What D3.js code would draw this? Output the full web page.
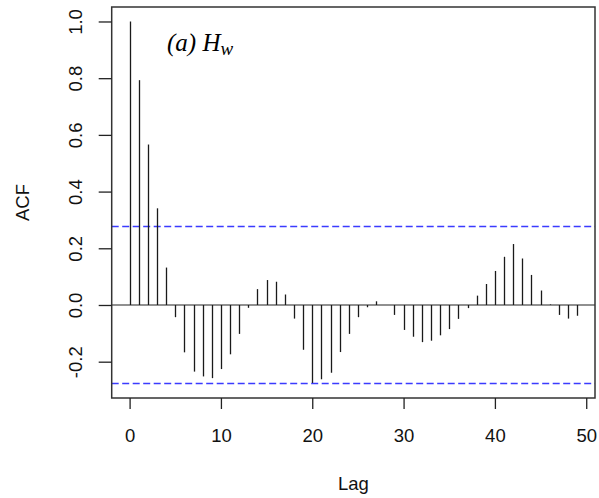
<!DOCTYPE html>
<html>
<head>
<meta charset="utf-8">
<script src="https://cdn.jsdelivr.net/npm/d3@7"></script>
<style>
  html, body { margin: 0; padding: 0; background: #fff; }
  svg { display: block; }
</style>
</head>
<body>
<svg id="chart" width="599" height="498"></svg>
<script>
// Sample autocorrelation of H_w, lags 0..49
const lags = d3.range(0, 50);
const acfValues = [
  1.000, 0.793, 0.566, 0.341, 0.132, -0.043, -0.167, -0.235, -0.252, -0.258,
  -0.226, -0.174, -0.102, -0.010, 0.056, 0.088, 0.082, 0.037, -0.048, -0.158,
  -0.275, -0.262, -0.239, -0.166, -0.102, -0.043, -0.008, 0.013, 0.000, -0.035,
  -0.088, -0.112, -0.131, -0.126, -0.107, -0.085, -0.049, -0.011, 0.033, 0.074,
  0.120, 0.170, 0.215, 0.164, 0.106, 0.051, 0.002, -0.035, -0.048, -0.038
];
const confBound = 0.277;           // approximate 95% significance bound
const xTicks = [0, 10, 20, 30, 40, 50];
const yTicks = [-0.2, 0.0, 0.2, 0.4, 0.6, 0.8, 1.0];
const titleMain = "(a) H";
const titleSub = "w";

const svg = d3.select("#chart");
const plotL = 111.7, plotR = 595, plotT = 7, plotB = 398;

// R-style 4% padding of the data range
const xPad = (49 - 0) * 0.04;
const x = d3.scaleLinear().domain([0 - xPad, 49 + xPad]).range([plotL, plotR]);
const yLo = -confBound, yHi = 1.0, yPad = (yHi - yLo) * 0.04;
const y = d3.scaleLinear().domain([yLo - yPad, yHi + yPad]).range([plotB, plotT]);

const font = "'Liberation Sans', Arial, Helvetica, sans-serif";
// plain hyphen for negative tick labels
const fmtY = d => d3.format(".1f")(d).replace("\u2212", "-");

// zero reference line
svg.append("line")
  .attr("x1", plotL).attr("x2", plotR)
  .attr("y1", y(0)).attr("y2", y(0))
  .attr("stroke", "#222").attr("stroke-width", 1.1);

// confidence bounds
svg.selectAll("line.ci").data([confBound, -confBound]).enter().append("line")
  .attr("class", "ci")
  .attr("x1", plotL).attr("x2", plotR)
  .attr("y1", d => y(d)).attr("y2", d => y(d))
  .attr("stroke", "#3b3bff").attr("stroke-width", 1.4)
  .attr("stroke-dasharray", "7,3.5");

// ACF spikes
svg.selectAll("line.spike").data(lags).enter().append("line")
  .attr("class", "spike")
  .attr("x1", d => Math.round(x(d)) + 0.5).attr("x2", d => Math.round(x(d)) + 0.5)
  .attr("y1", y(0)).attr("y2", d => y(acfValues[d]))
  .attr("stroke", "#1a1a1a").attr("stroke-width", 1.3);

// plot frame
svg.append("rect")
  .attr("x", plotL).attr("y", plotT)
  .attr("width", plotR - plotL).attr("height", plotB - plotT)
  .attr("fill", "none").attr("stroke", "#333").attr("stroke-width", 1.5);

// x axis ticks and labels
const xAxis = svg.append("g").attr("transform", `translate(0,${plotB})`)
  .call(d3.axisBottom(x).tickValues(xTicks).tickSize(11).tickFormat(d3.format("d")));
xAxis.select(".domain").remove();
xAxis.selectAll(".tick line").attr("stroke", "#222").attr("stroke-width", 1.3);
xAxis.selectAll(".tick text")
  .attr("font-family", font).attr("font-size", 18.5).attr("fill", "#111")
  .attr("dy", "0.71em").attr("y", 31);

// y axis ticks and rotated labels
const yAxis = svg.append("g").attr("transform", `translate(${plotL},0)`)
  .call(d3.axisLeft(y).tickValues(yTicks).tickSize(13).tickFormat(fmtY));
yAxis.select(".domain").remove();
yAxis.selectAll(".tick line").attr("stroke", "#222").attr("stroke-width", 1.3);
yAxis.selectAll(".tick text")
  .attr("font-family", font).attr("font-size", 18.5).attr("fill", "#111")
  .attr("x", null).attr("dy", null)
  .attr("text-anchor", "middle")
  .attr("transform", "translate(-30,0) rotate(-90)");

// axis titles
svg.append("text")
  .attr("x", (plotL + plotR) / 2).attr("y", 490)
  .attr("text-anchor", "middle")
  .attr("font-family", font).attr("font-size", 18.5).attr("fill", "#111")
  .text("Lag");
svg.append("text")
  .attr("transform", `translate(29,${(plotT + plotB) / 2}) rotate(-90)`)
  .attr("text-anchor", "middle")
  .attr("font-family", font).attr("font-size", 18.5).attr("fill", "#111")
  .text("ACF");

// panel title
const title = svg.append("text")
  .attr("x", 167).attr("y", 51)
  .attr("font-family", "'Liberation Serif', 'Times New Roman', serif")
  .attr("font-style", "italic").attr("font-size", 25).attr("fill", "#000");
title.append("tspan").text(titleMain);
title.append("tspan").attr("font-size", 19).attr("dy", 4).text(titleSub);
</script>
</body>
</html>
